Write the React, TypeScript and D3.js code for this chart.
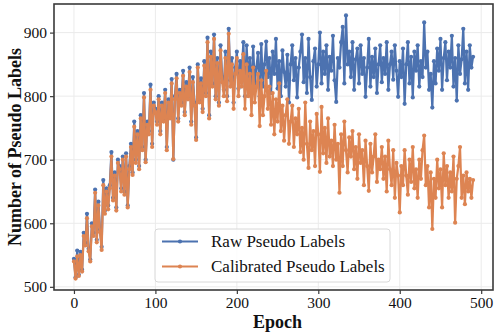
import { useEffect, useRef } from 'react';
import * as d3 from 'd3';

// epochs sampled every 2 (0..490)
const epochs = d3.range(0, 491, 2);

const rawLabels = [
  544, 515, 557, 519, 555, 527, 585, 569, 615, 560,
  543, 600, 585, 653, 574, 634, 590, 563, 668, 620,
  655, 628, 660, 712, 640, 680, 625, 700, 690, 655,
  705, 650, 710, 628, 690, 725, 680, 760, 700, 745,
  690, 770, 720, 805, 700, 760, 745, 818, 725, 790,
  780, 760, 800, 745, 790, 765, 810, 720, 795, 770,
  827, 700, 800, 835, 765, 810, 790, 840, 775, 822,
  800, 845, 760, 830, 790, 735, 850, 795, 828, 780,
  855, 805, 892, 770, 870, 820, 897, 800, 860, 790,
  880, 830, 810, 870, 800, 906, 825, 860, 790, 845,
  870, 812, 855, 835, 885, 800, 880, 826, 860, 805,
  878, 820, 845, 868, 800, 882, 815, 850, 886, 830,
  860, 805, 870, 835, 890, 812, 855, 800, 872, 838,
  815, 865, 790, 850, 880, 825, 860, 798, 845, 870,
  897, 822, 860, 805, 890, 830, 794, 855, 875, 815,
  850, 900, 820, 870, 835, 880, 810, 862, 840, 895,
  825, 791, 860, 845, 885, 909, 820, 927, 850, 870,
  830, 885, 810, 858, 875, 820, 880, 835, 860, 799,
  845, 890, 815, 862, 830, 875, 805, 850, 880, 822,
  860, 835, 885, 810, 850, 870, 826, 880, 840, 799,
  855, 830, 875, 788, 850, 885, 820, 862, 798, 870,
  840, 880, 815, 855, 830, 916, 845, 870, 810, 835,
  782, 855, 820, 875, 840, 890, 810, 860, 885, 825,
  870, 845, 895, 815, 860, 793, 880, 835, 858, 906,
  820, 870, 810, 880, 845, 862,
];

const calibratedLabels = [
  540, 513, 548, 517, 550, 524, 580, 565, 608, 556,
  540, 595, 580, 648, 570, 628, 586, 558, 660, 615,
  650, 622, 655, 705, 636, 675, 620, 695, 685, 650,
  700, 645, 705, 625, 685, 720, 676, 752, 695, 740,
  685, 765, 715, 798, 696, 755, 740, 810, 720, 785,
  775, 755, 795, 740, 785, 760, 805, 715, 790, 765,
  820, 701, 795, 828, 760, 805, 785, 832, 770, 815,
  795, 838, 755, 822, 785, 731, 845, 790, 820, 775,
  848, 800, 885, 765, 862, 815, 890, 795, 852, 785,
  872, 822, 800, 860, 792, 898, 815, 850, 780, 835,
  860, 800, 840, 815, 866, 780, 850, 800, 835, 770,
  845, 790, 815, 835, 753, 825, 770, 800, 840, 780,
  815, 755, 805, 740, 795, 760, 820, 745, 785, 730,
  770, 795, 725, 760, 785, 720, 765, 740, 780, 712,
  750, 700, 790, 725, 687, 760, 715, 745, 690, 772,
  740, 681, 783, 710, 750, 695, 765, 705, 730, 690,
  755, 700, 725, 648, 740, 690, 760, 715, 680, 735,
  705, 745, 685, 720, 670, 740, 695, 715, 660, 730,
  690, 651, 725, 680, 705, 740, 665, 700, 685, 720,
  670, 705, 650, 730, 685, 660, 715, 640, 695, 675,
  617, 690, 660, 715, 675, 645, 700, 665, 720, 655,
  685, 640, 700, 670, 715, 738, 660, 690, 625, 680,
  591, 670, 640, 700, 655, 685, 625, 710, 660, 690,
  640, 680, 650, 705, 601, 670, 690, 720, 640, 675,
  630, 680, 650, 670, 640, 668,
];

const xTicks = [0, 100, 200, 300, 400, 500];
const yTicks = [500, 600, 700, 800, 900];

const seriesNames = ['Raw Pseudo Labels', 'Calibrated Pseudo Labels'];
const seriesColors = ['#4C72B0', '#DD8452'];

export default function App() {
  const ref = useRef<SVGSVGElement>(null);

  useEffect(() => {
    const width = 498;
    const height = 335;
    const margin = { top: 4, right: 5, bottom: 45, left: 54 };
    const font = '"Liberation Serif", "Times New Roman", serif';

    const svg = d3.select(ref.current);
    svg.selectAll('*').remove();

    const x = d3.scaleLinear()
      .domain([-24.5, 514.5])
      .range([margin.left, width - margin.right]);
    const y = d3.scaleLinear()
      .domain([495, 945])
      .range([height - margin.bottom, margin.top]);

    // grid
    const grid = svg.append('g');
    grid.selectAll('line.gx')
      .data(xTicks)
      .join('line')
      .attr('x1', d => x(d)).attr('x2', d => x(d))
      .attr('y1', margin.top).attr('y2', height - margin.bottom)
      .attr('stroke', '#ebebeb').attr('stroke-width', 1);
    grid.selectAll('line.gy')
      .data(yTicks)
      .join('line')
      .attr('x1', margin.left).attr('x2', width - margin.right)
      .attr('y1', d => y(d)).attr('y2', d => y(d))
      .attr('stroke', '#ebebeb').attr('stroke-width', 1);

    const series = [rawLabels, calibratedLabels];
    series.forEach((vals, si) => {
      const pts = vals.map((v, i) => [epochs[i], v] as [number, number]);
      const line = d3.line<[number, number]>()
        .x(d => x(d[0]))
        .y(d => y(d[1]));
      const g = svg.append('g');
      g.append('path')
        .datum(pts)
        .attr('fill', 'none')
        .attr('stroke', seriesColors[si])
        .attr('stroke-width', 2.2)
        .attr('stroke-linejoin', 'round')
        .attr('d', line);
      g.selectAll('circle')
        .data(pts)
        .join('circle')
        .attr('cx', d => x(d[0]))
        .attr('cy', d => y(d[1]))
        .attr('r', 2.1)
        .attr('fill', seriesColors[si]);
    });

    // frame
    svg.append('rect')
      .attr('x', margin.left).attr('y', margin.top)
      .attr('width', width - margin.left - margin.right)
      .attr('height', height - margin.top - margin.bottom)
      .attr('fill', 'none')
      .attr('stroke', '#3a3a3a')
      .attr('stroke-width', 1.6);

    // axes
    const xAxis = svg.append('g')
      .attr('transform', `translate(0,${height - margin.bottom})`)
      .call(d3.axisBottom(x).tickValues(xTicks).tickSize(4).tickPadding(3).tickFormat(d3.format('d')));
    const yAxis = svg.append('g')
      .attr('transform', `translate(${margin.left},0)`)
      .call(d3.axisLeft(y).tickValues(yTicks).tickSize(4).tickPadding(3).tickFormat(d3.format('d')));
    [xAxis, yAxis].forEach(a => {
      a.select('.domain').remove();
      a.selectAll('line').attr('stroke', '#3a3a3a').attr('stroke-width', 1.2);
      a.selectAll('text')
        .attr('font-family', font)
        .attr('font-size', 15.5)
        .attr('fill', '#111');
    });

    svg.append('text')
      .attr('x', x(250)).attr('y', 328)
      .attr('text-anchor', 'middle')
      .attr('font-family', font)
      .attr('font-weight', 'bold')
      .attr('font-size', 18)
      .attr('fill', '#111')
      .text('Epoch');

    svg.append('text')
      .attr('transform', `translate(21,${(margin.top + height - margin.bottom) / 2}) rotate(-90)`)
      .attr('text-anchor', 'middle')
      .attr('font-family', font)
      .attr('font-weight', 'bold')
      .attr('font-size', 18)
      .attr('fill', '#111')
      .text('Number of Pseudo Labels');

    // legend
    const leg = svg.append('g').attr('transform', 'translate(155,229)');
    leg.append('rect')
      .attr('width', 235).attr('height', 53)
      .attr('rx', 3)
      .attr('fill', 'white').attr('fill-opacity', 0.85)
      .attr('stroke', '#d8d8d8');
    seriesNames.forEach((name, i) => {
      const cy = 12.5 + i * 25;
      leg.append('line')
        .attr('x1', 7).attr('x2', 43)
        .attr('y1', cy).attr('y2', cy)
        .attr('stroke', seriesColors[i]).attr('stroke-width', 2.2);
      leg.append('circle')
        .attr('cx', 25).attr('cy', cy).attr('r', 2.1)
        .attr('fill', seriesColors[i]);
      leg.append('text')
        .attr('x', 56).attr('y', cy + 5.5)
        .attr('font-family', font)
        .attr('font-size', 17)
        .attr('fill', '#111')
        .text(name);
    });
  }, []);

  return (
    <svg ref={ref} width={498} height={335}
      style={{ position: 'absolute', left: 0, top: 0, background: 'white' }} />
  );
}
